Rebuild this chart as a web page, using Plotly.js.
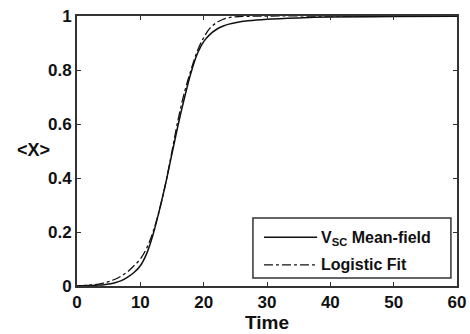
<!DOCTYPE html>
<html><head><meta charset="utf-8">
<script src="https://cdn.plot.ly/plotly-3.0.1.min.js"></script>
<style>html,body{margin:0;padding:0;background:#fff}#c{width:470px;height:334px}</style>
</head><body><div id="c"></div>
<script>
var timeMF = [0,1,2,3,4,5,6,7,8,9,10,11,12,13,14,15,16,17,18,19,20,21,22,23,24,25,27,30,35,40,50,60];
var meanField = [0,0.001,0.002,0.003,0.004,0.007,0.012,0.02,0.033,0.05,0.075,0.12,0.19,0.28,0.38,0.49,0.6,0.7,0.79,0.86,0.905,0.932,0.95,0.962,0.97,0.975,0.982,0.988,0.993,0.996,0.998,0.999];
var timeFit = [0,2,4,5,6,7,8,9,10,11,12,13,14,15,16,17,18,19,20,21,22,23,24,25,27,30,40,60];
var logisticFit = [0,0.003,0.01,0.016,0.025,0.037,0.053,0.075,0.1,0.14,0.2,0.28,0.38,0.5,0.62,0.72,0.8,0.87,0.92,0.955,0.975,0.987,0.994,0.997,0.999,1,1,1];
var xTicks = [0,10,20,30,40,50,60];
var yTicks = [0,0.2,0.4,0.6,0.8,1];
var yTickText = ['0','0.2','0.4','0.6','0.8','1'];
var legendNames = ['V<sub>SC</sub> Mean-field', 'Logistic Fit'];

var font = 'Liberation Sans, Arial, sans-serif';
var txt = function(size){ return {family: font, size: size, color: '#111', weight: 'bold'}; };
var traces = [
  {x: timeMF, y: meanField, mode: 'lines', name: legendNames[0],
   line: {color: '#111', width: 1.5, shape: 'spline'}},
  {x: timeFit, y: logisticFit, mode: 'lines', name: legendNames[1],
   line: {color: '#111', width: 1.3, dash: 'dashdot', shape: 'spline'}}
];
var axisCommon = {showline: true, linecolor: '#333', linewidth: 2, mirror: 'ticks',
  ticks: 'inside', ticklen: 4, tickcolor: '#333', showgrid: false, zeroline: false,
  tickfont: txt(17)};
var layout = {
  width: 470, height: 334,
  margin: {l: 77, r: 13, t: 16, b: 48},
  paper_bgcolor: '#fff', plot_bgcolor: '#fff',
  showlegend: false,
  xaxis: Object.assign({}, axisCommon, {range: [0, 60], tickvals: xTicks,
    title: {text: 'Time', font: txt(19), standoff: 1}}),
  yaxis: Object.assign({}, axisCommon, {range: [0, 1], tickvals: yTicks, ticktext: yTickText}),
  shapes: [
    {type: 'rect', xref: 'paper', yref: 'paper', x0: 0.463, x1: 0.984, y0: 0.0296, y1: 0.252,
     line: {color: '#333', width: 1.5}, fillcolor: '#fff', layer: 'above'},
    {type: 'line', xref: 'paper', yref: 'paper', x0: 0.492, x1: 0.632, y0: 0.181, y1: 0.181,
     line: {color: '#111', width: 1.5}},
    {type: 'line', xref: 'paper', yref: 'paper', x0: 0.492, x1: 0.632, y0: 0.078, y1: 0.078,
     line: {color: '#111', width: 1.3, dash: 'dashdot'}}
  ],
  annotations: [
    {xref: 'paper', yref: 'paper', x: -0.115, y: 0.505, xanchor: 'center', yanchor: 'middle',
     text: '&lt;X&gt;', showarrow: false, font: txt(18)},
    {xref: 'paper', yref: 'paper', x: 0.636, y: 0.175, xanchor: 'left', yanchor: 'middle',
     text: legendNames[0], showarrow: false, font: txt(16)},
    {xref: 'paper', yref: 'paper', x: 0.636, y: 0.078, xanchor: 'left', yanchor: 'middle',
     text: legendNames[1], showarrow: false, font: txt(16)}
  ]
};
Plotly.newPlot('c', traces, layout, {staticPlot: true});
</script></body></html>
